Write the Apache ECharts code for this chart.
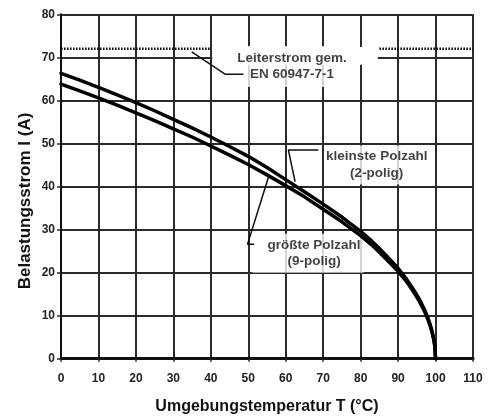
<!DOCTYPE html>
<html>
<head>
<meta charset="utf-8">
<script src="https://cdn.jsdelivr.net/npm/echarts@6/dist/echarts.min.js"></script>
<style>
  html, body { margin: 0; padding: 0; background: #fff; }
  #chart { width: 491px; height: 417px; }
</style>
</head>
<body>
<div id="chart"></div>
<script>
// Ambient temperature (°C)
const temps = [0, 5, 10, 15, 20, 25, 30, 35, 40, 45, 50, 55, 60, 65, 70, 75, 80, 83, 85, 87, 90, 92, 94, 95, 96, 97, 98, 98.5, 99, 99.5, 99.8, 100];
// Smallest pole count (2-pole) – load current (A)
const smallPoles = [66.3, 64.7, 63.0, 61.3, 59.5, 57.6, 55.6, 53.6, 51.5, 49.3, 47.0, 44.4, 41.6, 38.8, 35.9, 32.9, 29.6, 27.3, 25.6, 23.8, 21.0, 18.8, 16.2, 14.8, 13.3, 11.5, 9.4, 8.1, 6.6, 4.7, 3.0, 0];
// Largest pole count (9-pole) – load current (A)
const largePoles = [63.8, 62.2, 60.6, 58.9, 57.1, 55.3, 53.4, 51.5, 49.4, 47.3, 45.1, 42.7, 40.2, 37.6, 34.7, 31.8, 28.6, 26.4, 24.7, 23.0, 20.3, 18.2, 15.7, 14.3, 12.8, 11.1, 9.0, 7.8, 6.4, 4.5, 2.9, 0];
// Conductor current per EN 60947-7-1 (A), shown on two segments
const conductorCurrent = 72;
const conductorSegments = [[0, 40], [85, 110]];
// Axis ticks
const xTicks = [0, 10, 20, 30, 40, 50, 60, 70, 80, 90, 100, 110];
const yTicks = [0, 10, 20, 30, 40, 50, 60, 70, 80];

const lineColor = '#2b2b2b';
const narrow = '"Liberation Sans Narrow", "Liberation Sans", Arial, sans-serif';
const labelFont = '"Liberation Sans", Arial, sans-serif';

const chart = echarts.init(document.getElementById('chart'));

const curve = (vals) => temps.map((t, i) => [t, vals[i]]);

const conductorData = [];
conductorSegments.forEach((s, i) => {
  if (i > 0) conductorData.push([null, null]);
  conductorData.push([s[0], conductorCurrent], [s[1], conductorCurrent]);
});

const textStyleBox = {
  fontFamily: labelFont,
  fontWeight: 'bold',
  fontSize: 13.5,
  lineHeight: 16.5,
  color: '#111',
  backgroundColor: '#fff',
  align: 'center',
  verticalAlign: 'middle'
};

chart.setOption({
  animation: false,
  backgroundColor: '#fff',
  grid: { left: 61, right: 18, top: 14.3, bottom: 58.3, containLabel: false, outerBoundsMode: 'none' },
  xAxis: {
    type: 'value',
    min: xTicks[0],
    max: xTicks[xTicks.length - 1],
    interval: 10,
    name: 'Umgebungstemperatur T (°C)',
    nameLocation: 'middle',
    nameGap: 40,
    nameMoveOverlap: false,
    nameTextStyle: { fontFamily: labelFont, fontWeight: 'bold', fontSize: 16, color: '#111' },
    axisLine: { show: true, onZero: false, lineStyle: { color: '#111', width: 3 } },
    axisTick: { show: true, length: 3, lineStyle: { color: lineColor, width: 1.5 } },
    axisLabel: { margin: 14, fontFamily: narrow, fontWeight: 'bold', fontSize: 12, color: '#222' },
    splitLine: { show: true, lineStyle: { color: lineColor, width: 2 } }
  },
  yAxis: {
    type: 'value',
    min: yTicks[0],
    max: yTicks[yTicks.length - 1],
    interval: 10,
    name: 'Belastungsstrom I (A)',
    nameLocation: 'middle',
    nameGap: 27,
    nameMoveOverlap: false,
    nameTextStyle: { fontFamily: labelFont, fontWeight: 'bold', fontSize: 17, color: '#111', padding: [0, 29, 0, 0] },
    axisLine: { show: true, lineStyle: { color: '#111', width: 2 } },
    axisTick: { show: true, length: 4, lineStyle: { color: lineColor, width: 1.5 } },
    axisLabel: { margin: 6, fontFamily: narrow, fontWeight: 'bold', fontSize: 12, color: '#222' },
    splitLine: { show: true, lineStyle: { color: lineColor, width: 2 } }
  },
  series: [
    {
      // label boxes (white backgrounds mask the grid like in the original)
      type: 'scatter',
      z: 3,
      symbolSize: 0,
      silent: true,
      data: [
        { value: [61.7, 67.9], label: { formatter: 'Leiterstrom gem.\nEN 60947-7-1', padding: [5, 7, 3, 7] } },
        { value: [84.3, 45.0], label: { formatter: 'kleinste Polzahl\n(2-polig)', padding: [3, 2, 3, 2] } },
        { value: [65.95, 24.5], label: { formatter: 'größte Polzahl\n(9-polig)', padding: [3, 3, 3, 15] } }
      ],
      label: Object.assign({ show: true, position: 'inside' }, textStyleBox),
      markArea: {
        silent: true,
        itemStyle: { color: '#fff', borderWidth: 0 },
        data: [[{ coord: [40.4, 68.3] }, { coord: [84.6, 72.4] }]]
      }
    },
    {
      type: 'line',
      z: 4,
      data: conductorData,
      symbol: 'none',
      connectNulls: false,
      lineStyle: { color: '#111', width: 2.5, type: [1.6, 1.4] },
      silent: true
    },
    {
      name: 'kleinste Polzahl (2-polig)',
      type: 'line',
      z: 5,
      data: curve(smallPoles),
      symbol: 'none',
      smooth: false,
      lineStyle: { color: '#000', width: 3.5, join: 'round', cap: 'round' },
      silent: true
    },
    {
      name: 'größte Polzahl (9-polig)',
      type: 'line',
      z: 5,
      data: curve(largePoles),
      symbol: 'none',
      smooth: false,
      lineStyle: { color: '#000', width: 3.5, join: 'round', cap: 'round' },
      silent: true
    },
    // leader lines
    {
      type: 'line', z: 10, symbol: 'none', silent: true,
      lineStyle: { color: '#111', width: 1.5 },
      data: [[34.9, 71.3], [43.8, 66.1], [48.7, 66.1]]
    },
    {
      type: 'line', z: 10, symbol: 'none', silent: true,
      lineStyle: { color: '#111', width: 1.5 },
      data: [[68.7, 48.5], [60.7, 48.5], [62.5, 41.1]]
    },
    {
      type: 'line', z: 10, symbol: 'none', silent: true,
      lineStyle: { color: '#111', width: 1.5 },
      data: [[55.4, 42.2], [49.8, 26.6], [51.6, 26.6]]
    }
  ]
});
</script>
</body>
</html>
